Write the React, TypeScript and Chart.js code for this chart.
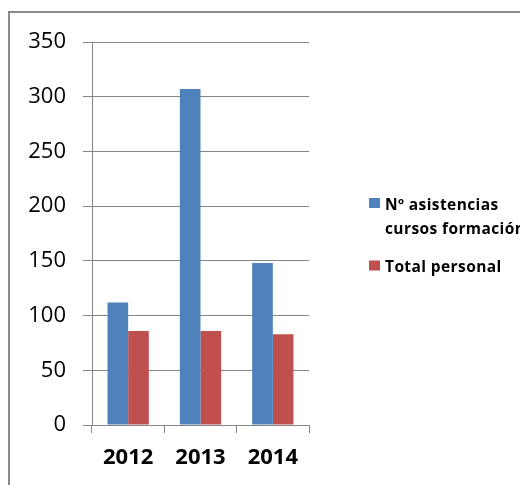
import React, { useEffect, useRef } from "react";
import { Chart, registerables } from "chart.js";

Chart.register(...registerables);

const categories = ["2012", "2013", "2014"];
const asistencias = [112, 307, 148];
const totalPersonal = [86, 86, 83];
const seriesNames = ["Nº asistencias cursos formación", "Total personal"];
const seriesColors = ["#4F81BD", "#C0504D"];
const yTicks = [0, 50, 100, 150, 200, 250, 300, 350];

const FONT = "'Open Sans', 'DejaVu Sans', sans-serif";
const GRID = "#868686";

function wrapText(ctx: CanvasRenderingContext2D, text: string, maxWidth: number): string[] {
  const words = text.split(" ");
  const lines: string[] = [];
  let cur = "";
  for (const w of words) {
    const test = cur ? cur + " " + w : w;
    if (cur && ctx.measureText(test).width > maxWidth) {
      lines.push(cur);
      cur = w;
    } else {
      cur = test;
    }
  }
  if (cur) lines.push(cur);
  return lines;
}

const sideLegend = {
  id: "sideLegend",
  afterDraw(chart: any) {
    const ctx: CanvasRenderingContext2D = chart.ctx;
    ctx.save();
    ctx.font = `bold 15.5px ${FONT}`;
    (ctx as any).letterSpacing = "0.4px";
    ctx.textAlign = "left";
    ctx.textBaseline = "alphabetic";
    const boxX = 369;
    const textX = 385;
    const lineGap = 24;
    let baseline = 209.5;
    chart.data.datasets.forEach((ds: any) => {
      const lines = wrapText(ctx, ds.label, 150);
      ctx.fillStyle = ds.backgroundColor;
      ctx.fillRect(boxX, baseline - 11.5, 11, 10);
      ctx.fillStyle = "#000";
      lines.forEach((ln, i) => ctx.fillText(ln, textX, baseline + i * lineGap));
      baseline += (lines.length - 1) * lineGap + 38.5;
    });
    ctx.restore();
  },
};

export default function App() {
  const ref = useRef<HTMLCanvasElement | null>(null);

  useEffect(() => {
    if (!ref.current) return;
    const chart = new Chart(ref.current, {
      type: "bar",
      data: {
        labels: categories,
        datasets: [
          {
            label: seriesNames[0],
            data: asistencias,
            backgroundColor: seriesColors[0],
            categoryPercentage: 0.571,
            barPercentage: 1,
          },
          {
            label: seriesNames[1],
            data: totalPersonal,
            backgroundColor: seriesColors[1],
            categoryPercentage: 0.571,
            barPercentage: 1,
          },
        ],
      },
      options: {
        responsive: false,
        animation: false,
        layout: { padding: { top: 42, right: 211, left: 0, bottom: 0 } },
        plugins: {
          legend: { display: false },
          tooltip: { enabled: false },
        },
        scales: {
          x: {
            grid: {
              display: true,
              drawOnChartArea: false,
              drawTicks: true,
              tickLength: 8,
              color: GRID,
              offset: true,
            },
            border: { display: true, color: GRID, width: 1 },
            ticks: {
              font: { family: FONT, size: 22, weight: "bold" },
              color: "#000",
              padding: 12,
              maxRotation: 0,
            },
            afterFit: (s: any) => {
              s.height = 60;
            },
          },
          y: {
            min: yTicks[0],
            max: yTicks[yTicks.length - 1],
            ticks: {
              stepSize: yTicks[1] - yTicks[0],
              font: { family: FONT, size: 22 },
              color: "#000",
              padding: 17,
            },
            grid: { color: GRID, tickLength: 9, drawTicks: true },
            border: { display: true, color: GRID, width: 1 },
            afterFit: (s: any) => {
              s.width = 92;
            },
          },
        },
      } as any,
      plugins: [sideLegend],
    });
    return () => chart.destroy();
  }, []);

  return (
    <div
      style={{
        position: "fixed",
        left: 0,
        top: 0,
        width: 520,
        height: 485,
        overflow: "hidden",
        background: "#fff",
      }}
    >
      <canvas ref={ref} width={520} height={485} style={{ position: "absolute", left: 0, top: 0 }} />
      <div
        style={{
          position: "absolute",
          left: 8,
          top: 11,
          width: 1000,
          height: 1000,
          border: "2px solid #8a8a8a",
          pointerEvents: "none",
        }}
      />
    </div>
  );
}
